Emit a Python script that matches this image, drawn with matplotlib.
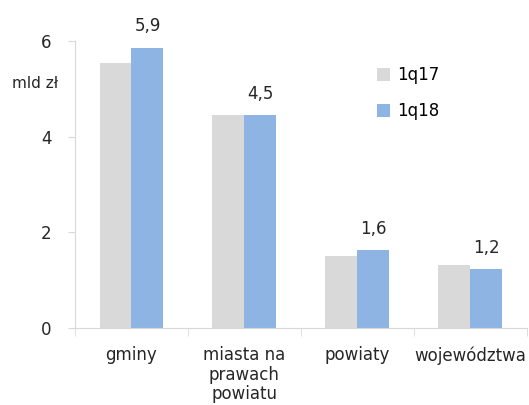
import numpy as np
import matplotlib
matplotlib.use("Agg")
from matplotlib import pyplot as plt

# data
categories = ["gminy", "miasta na\nprawach\npowiatu", "powiaty", "województwa"]
q17 = [5.54, 4.45, 1.51, 1.32]
q18 = [5.86, 4.45, 1.63, 1.23]
labels_q18 = ["5,9", "4,5", "1,6", "1,2"]

gray = "#d9d9d9"
blue = "#8eb4e3"
txt = "#262626"

plt.rcParams["font.family"] = ["DejaVu Sans"]
plt.rcParams["font.size"] = 12

fig = plt.figure(figsize=(5.29, 4.05), dpi=100)
ax = fig.add_axes([0.1418, 0.190, 0.854, 0.709])

x = np.arange(len(categories))
w = 0.283
ax.bar(x - w / 2, q17, w, color=gray, label="1q17")
ax.bar(x + w / 2, q18, w, color=blue, label="1q18")

for xi, v, lab in zip(x, q18, labels_q18):
    ax.annotate(lab, (xi + w / 2, v), xytext=(0, 9), textcoords="offset points",
                ha="center", va="bottom", color=txt)

ax.set_xlim(-0.5, len(categories) - 0.5)
ax.set_ylim(0, 6)
ax.set_yticks([0, 2, 4, 6])
ax.set_xticks(x)
ax.set_xticklabels(categories, color=txt, linespacing=1.1)
ax.set_xticks(np.arange(len(categories) + 1) - 0.5, minor=True)
ax.tick_params(axis="x", which="major", length=0, pad=13)
ax.tick_params(axis="x", which="minor", length=6, color="#d9d9d9")
ax.tick_params(axis="y", length=5, color="#d9d9d9", labelcolor=txt, pad=12)

for s in ["top", "right"]:
    ax.spines[s].set_visible(False)
ax.spines["left"].set_color("#d9d9d9")
ax.spines["bottom"].set_color("#d9d9d9")

fig.text(12 / 529, 1 - 83 / 405, "mld zł", ha="left", va="center", color=txt,
         fontsize=11)

ax.legend(loc="upper left", bbox_to_anchor=(0.635, 0.965), frameon=False,
          handlelength=0.8, handleheight=0.8, handletextpad=0.4, labelspacing=1.1)

fig.savefig("out.png", dpi=100)
